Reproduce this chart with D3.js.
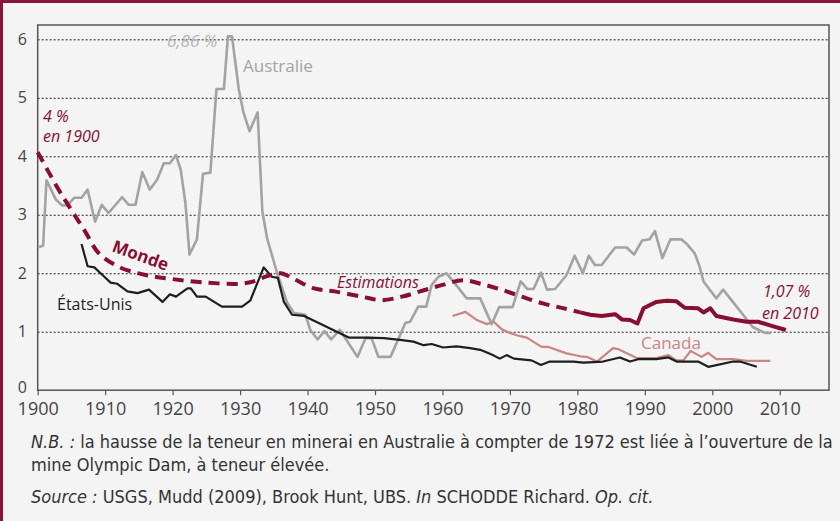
<!DOCTYPE html>
<html>
<head>
<meta charset="utf-8">
<script src="https://cdn.jsdelivr.net/npm/d3@7"></script>
<style>
  body { margin: 0; background: #f4f4f4; }
  svg { display: block; }
</style>
</head>
<body>
<svg id="chart" width="840" height="521"></svg>
<script>
// Australie (grey)
const auYears = [1900.2, 1900.8, 1901.3, 1902.7, 1903.6, 1904.4, 1905.4, 1906.5, 1907.4, 1908.5, 1909.5, 1910.5,
  1912.5, 1913.5, 1914.5, 1915.5, 1916.6, 1917.7, 1918.7, 1919.6, 1920.5, 1921.2, 1921.9, 1922.5, 1923.6,
  1924.5, 1925.6, 1926.5, 1927.6, 1928.2, 1928.8, 1929.8, 1930.5, 1931.4, 1932.6, 1933.3, 1934.0, 1935.5,
  1937.0, 1938.0, 1939.7, 1940.4, 1941.5, 1942.5, 1943.5, 1944.8, 1947.4, 1948.6, 1949.5, 1950.5, 1952.3,
  1953.4, 1954.5, 1955.2, 1956.4, 1957.6, 1958.4, 1959.4, 1960.6, 1961.6, 1963.6, 1965.6, 1967.3, 1968.4,
  1970.4, 1971.6, 1972.6, 1973.5, 1974.6, 1975.5, 1976.7, 1978.4, 1979.6, 1980.8, 1981.7, 1982.6, 1983.6,
  1985.6, 1987.3, 1988.4, 1989.6, 1990.7, 1991.5, 1992.6, 1993.8, 1995.4, 1996.3, 1997.4, 1998.1, 1998.7,
  2000.6, 2001.6, 2003.6, 2006.0, 2007.8, 2008.7];
const auValues = [2.45, 2.47, 3.59, 3.26, 3.16, 3.16, 3.29, 3.29, 3.43, 2.88, 3.17, 3.03,
  3.30, 3.17, 3.17, 3.73, 3.43, 3.60, 3.88, 3.88, 4.02, 3.77, 3.20, 2.32, 2.58,
  3.70, 3.72, 5.15, 5.15, 6.05, 6.05, 5.15, 4.75, 4.43, 4.75, 3.06, 2.60, 2.00,
  1.49, 1.32, 1.29, 1.03, 0.87, 1.01, 0.87, 1.03, 0.57, 0.89, 0.89, 0.57, 0.57,
  0.86, 1.15, 1.17, 1.43, 1.43, 1.80, 1.94, 2.00, 1.86, 1.57, 1.57, 1.13, 1.42,
  1.42, 1.86, 1.73, 1.73, 2.01, 1.72, 1.73, 1.97, 2.30, 2.00, 2.30, 2.14, 2.14,
  2.44, 2.44, 2.32, 2.56, 2.58, 2.72, 2.26, 2.58, 2.58, 2.49, 2.34, 2.12, 1.86,
  1.57, 1.72, 1.43, 1.08, 0.98, 0.98];

// États-Unis (black)
const usYears = [1906.5, 1907.4, 1908.4, 1909.6, 1910.8, 1911.8, 1913.3, 1914.8, 1916.5, 1918.5, 1919.6, 1920.5,
  1922.2, 1922.7, 1923.6, 1924.9, 1927.3, 1930.3, 1931.5, 1933.5, 1934.7, 1935.6, 1936.5, 1937.7, 1939.5,
  1946.1, 1948.8, 1951.3, 1953.7, 1955.7, 1957.2, 1958.4, 1960.1, 1962.1, 1964.1, 1965.6, 1967.3, 1968.5,
  1969.5, 1970.6, 1973.2, 1974.6, 1975.9, 1979.4, 1980.9, 1983.8, 1986.3, 1987.8, 1989.0, 1991.7, 1993.5,
  1994.7, 1997.9, 1999.4, 2003.1, 2004.1, 2006.6];
const usValues = [2.50, 2.12, 2.10, 1.97, 1.84, 1.82, 1.69, 1.66, 1.72, 1.51, 1.64, 1.60,
  1.74, 1.74, 1.60, 1.60, 1.43, 1.43, 1.53, 2.10, 1.94, 1.92, 1.51, 1.29, 1.27,
  0.90, 0.90, 0.89, 0.86, 0.83, 0.77, 0.79, 0.73, 0.75, 0.72, 0.69, 0.61, 0.54,
  0.60, 0.54, 0.51, 0.43, 0.49, 0.49, 0.47, 0.49, 0.56, 0.49, 0.53, 0.53, 0.56,
  0.49, 0.49, 0.40, 0.49, 0.49, 0.40];

// Canada (pink)
const caYears = [1961.5, 1963.4, 1965.1, 1966.6, 1967.6, 1968.8, 1970.0, 1971.0, 1972.5, 1974.7, 1975.7, 1978.4,
  1980.4, 1981.4, 1982.9, 1985.3, 1986.1, 1988.8, 1991.7, 1993.5, 1994.7, 1995.7, 1996.8, 1998.4, 1999.4,
  2000.6, 2003.1, 2005.1, 2008.6];
const caValues = [1.27, 1.34, 1.20, 1.13, 1.17, 1.04, 0.98, 0.94, 0.90, 0.74, 0.74, 0.63,
  0.58, 0.57, 0.49, 0.72, 0.70, 0.55, 0.55, 0.60, 0.51, 0.51, 0.67, 0.57, 0.64,
  0.53, 0.53, 0.50, 0.50];

// Monde : estimations (dashed) then observed (solid)
const worldEstYears = [1900, 1903, 1905, 1907, 1909, 1912, 1916, 1920, 1925, 1930, 1932, 1934, 1936, 1938, 1941,
  1944, 1948, 1951, 1954, 1957, 1960, 1963, 1966, 1969, 1972, 1975, 1978, 1980.4];
const worldEstValues = [4.07, 3.45, 3.08, 2.72, 2.35, 2.11, 1.97, 1.90, 1.84, 1.82, 1.86, 1.95, 2.00, 1.90, 1.74,
  1.69, 1.60, 1.54, 1.60, 1.70, 1.80, 1.88, 1.81, 1.71, 1.59, 1.48, 1.40, 1.33];
const worldYears = [1980.4, 1981.9, 1983.6, 1985.6, 1986.6, 1987.8, 1988.9, 1989.8, 1991.7, 1993.2, 1994.7,
  1995.9, 1997.9, 1998.7, 1999.7, 2000.6, 2003.1, 2005.1, 2006.8, 2008.8, 2010.9];
const worldValues = [1.33, 1.29, 1.27, 1.30, 1.21, 1.20, 1.14, 1.40, 1.51, 1.53, 1.52,
  1.41, 1.40, 1.33, 1.40, 1.27, 1.21, 1.17, 1.17, 1.10, 1.03];

const xTicks = [1900, 1910, 1920, 1930, 1940, 1950, 1960, 1970, 1980, 1990, 2000, 2010];
const yTicks = [0, 1, 2, 3, 4, 5, 6];

const red = "#870f32";
const grey = "#a3a3a3";
const pink = "#c98680";
const black = "#1e1e1e";

const svg = d3.select("#chart");

const x = d3.scaleLinear().domain([1900, 2017.3]).range([37.7, 829]);
const y = d3.scaleLinear().domain([0, 6.245]).range([390.2, 25]);

// outer frame (dark red top and left rule)
svg.append("rect").attr("x", 0).attr("y", 0).attr("width", 840).attr("height", 3).attr("fill", "#8a1538");
svg.append("rect").attr("x", 0).attr("y", 0).attr("width", 3).attr("height", 521).attr("fill", "#8a1538");

// grid lines
svg.append("g")
  .selectAll("line")
  .data(yTicks.filter(d => d > 0))
  .enter()
  .append("line")
  .attr("x1", x.range()[0])
  .attr("x2", x.range()[1])
  .attr("y1", d => y(d) + 0.5)
  .attr("y2", d => y(d) + 0.5)
  .attr("stroke", "#222")
  .attr("stroke-width", 1)
  .attr("stroke-dasharray", "2,2");

// y labels
svg.append("g")
  .selectAll("text")
  .data(yTicks)
  .enter()
  .append("text")
  .attr("x", 27)
  .attr("y", d => y(d) + (d === 0 ? 2.5 : 5.5))
  .attr("text-anchor", "end")
  .style("font-family", "'Open Sans', sans-serif")
  .style("font-size", "16px")
  .attr("fill", "#444")
  .text(d => d);

// x axis
const xAxis = svg.append("g")
  .attr("transform", `translate(0,${y(0)})`)
  .call(d3.axisBottom(x).tickValues(xTicks).tickFormat(d3.format("d")).tickSize(5).tickPadding(7));
xAxis.select(".domain").remove();
xAxis.selectAll(".tick line").attr("stroke", "#555").attr("stroke-width", 1.2);
xAxis.selectAll(".tick text")
  .style("font-family", "'Open Sans', sans-serif")
  .style("font-size", "18px")
  .attr("fill", "#444");

// plot frame
svg.append("rect")
  .attr("x", x.range()[0])
  .attr("y", y.range()[1])
  .attr("width", x.range()[1] - x.range()[0])
  .attr("height", y.range()[0] - y.range()[1])
  .attr("fill", "none")
  .attr("stroke", "#555")
  .attr("stroke-width", 1.5);

const line = d3.line()
  .x(d => x(d[0]))
  .y(d => y(d[1]));

function series(years, values, color, width, dash, curve) {
  svg.append("path")
    .datum(d3.zip(years, values))
    .attr("d", line.curve(curve || d3.curveLinear))
    .attr("fill", "none")
    .attr("stroke", color)
    .attr("stroke-width", width)
    .attr("stroke-linejoin", "round")
    .attr("stroke-dasharray", dash);
}

series(caYears, caValues, pink, 2.2, null);
series(auYears, auValues, grey, 2.6, null);
series(usYears, usValues, black, 2.2, null);
series(worldEstYears, worldEstValues, red, 4, "11,7", d3.curveCatmullRom);
series(worldYears, worldValues, red, 4, null);

// labels
function label(txt, px, py, color, opts = {}) {
  return svg.append("text")
    .attr("x", px)
    .attr("y", py)
    .attr("fill", color)
    .style("font-family", "'Open Sans', sans-serif")
    .style("font-size", (opts.size || 16) + "px")
    .style("font-style", opts.italic ? "italic" : "normal")
    .style("font-weight", opts.bold ? "bold" : "normal")
    .text(txt);
}

label("6,86 %", 167, 47, "#b5b5b5", { italic: true, size: 17 });
label("Australie", 243, 72, grey, { size: 17 });
label("4 %", 43, 122, red, { italic: true, size: 16 });
label("en 1900", 43, 142, red, { italic: true, size: 16 });
label("Monde", 111, 251, red, { bold: true, size: 17 })
  .attr("transform", "rotate(20,111,251)");
label("États-Unis", 57, 310, black, { size: 16 });
label("Estimations", 337, 288, red, { italic: true, size: 16 });
label("Canada", 641, 349, pink, { size: 17 });
label("1,07 %", 763, 297, red, { italic: true, size: 16 });
label("en 2010", 762, 319, red, { italic: true, size: 16 });

// notes
const note = svg.append("g")
  .style("font-family", "'DejaVu Sans Condensed', 'DejaVu Sans', sans-serif")
  .style("font-stretch", "condensed")
  .style("font-size", "18px")
  .attr("fill", "#333");

const l1 = note.append("text").attr("x", 31).attr("y", 448);
l1.append("tspan").style("font-style", "italic").text("N.B. :");
l1.append("tspan").text(" la hausse de la teneur en minerai en Australie à compter de 1972 est liée à l’ouverture de la");
note.append("text").attr("x", 31).attr("y", 471).text("mine Olympic Dam, à teneur élevée.");
const l3 = note.append("text").attr("x", 31).attr("y", 503);
l3.append("tspan").style("font-style", "italic").text("Source :");
l3.append("tspan").text("  USGS, Mudd (2009), Brook Hunt, UBS. ");
l3.append("tspan").style("font-style", "italic").text("In");
l3.append("tspan").text(" SCHODDE Richard. ");
l3.append("tspan").style("font-style", "italic").text("Op. cit.");
</script>
</body>
</html>
